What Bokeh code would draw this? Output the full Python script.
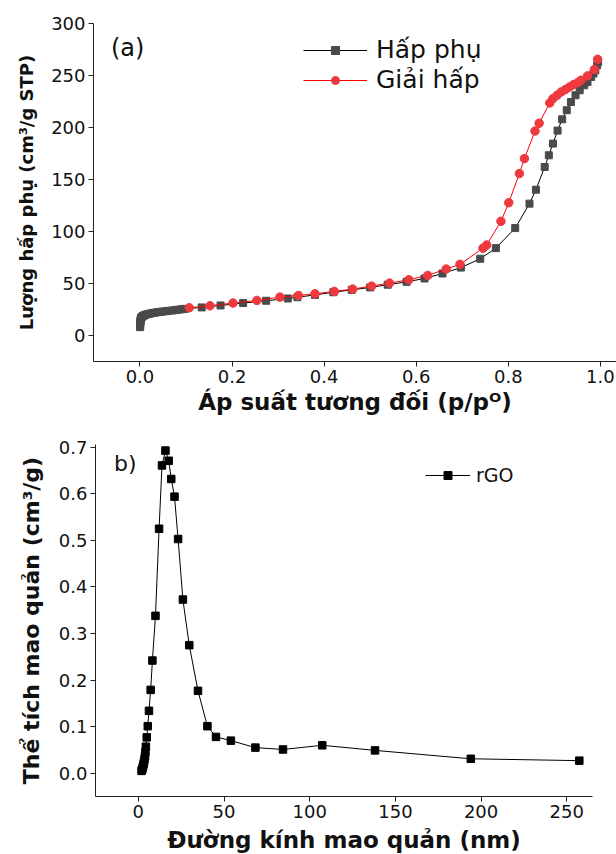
from bokeh.plotting import figure
from bokeh.models import Range1d, FixedTicker, PrintfTickFormatter, Legend, LegendItem, Label
from bokeh.embed import file_html
from bokeh.resources import INLINE

# ---------------- Panel (a): N2 isotherm ----------------
ads_p = [0.0003, 0.0005, 0.0007, 0.0009, 0.0012, 0.0016, 0.0022, 0.003, 0.004, 0.0055,
         0.0075, 0.010, 0.013, 0.017, 0.021, 0.026, 0.031, 0.037, 0.043, 0.049,
         0.055, 0.062, 0.069, 0.076, 0.083, 0.090, 0.097, 0.134, 0.175, 0.224,
         0.274, 0.321, 0.342, 0.380, 0.420, 0.460, 0.500, 0.538, 0.579, 0.618,
         0.657, 0.697, 0.739, 0.773, 0.815, 0.846, 0.860, 0.879, 0.888, 0.897,
         0.907, 0.917, 0.927, 0.936, 0.946, 0.955, 0.965, 0.972, 0.980, 0.985,
         0.989, 0.993, 0.995]
ads_v = [8.0, 10.0, 12.0, 13.5, 14.8, 15.8, 16.6, 17.3, 17.8, 18.4,
         19.0, 19.6, 20.1, 20.6, 21.0, 21.5, 21.9, 22.3, 22.7, 23.0,
         23.3, 23.7, 24.0, 24.4, 24.8, 25.2, 25.6, 27.0, 28.9, 31.2,
         33.4, 35.6, 36.8, 39.0, 41.6, 43.9, 46.2, 48.8, 51.6, 54.8,
         59.6, 65.3, 73.8, 84.0, 103.3, 126.8, 140.2, 162.0, 173.3, 184.5,
         197.0, 207.9, 216.6, 224.5, 231.0, 235.8, 240.6, 243.8, 248.6, 251.9,
         255.0, 259.9, 263.0]

des_p = [0.107, 0.152, 0.202, 0.254, 0.304, 0.344, 0.380, 0.422, 0.462, 0.503,
         0.542, 0.584, 0.625, 0.665, 0.695, 0.745, 0.753, 0.784, 0.801, 0.824,
         0.835, 0.858, 0.867, 0.890, 0.897, 0.906, 0.915, 0.924, 0.933, 0.942,
         0.951, 0.958, 0.972, 0.987, 0.994]
des_v = [26.7, 28.6, 31.2, 33.7, 36.9, 38.5, 40.1, 42.4, 44.6, 47.5,
         50.4, 53.6, 57.8, 63.9, 68.4, 84.0, 87.0, 109.8, 127.7, 155.7,
         170.1, 196.6, 204.1, 223.6, 227.8, 231.0, 234.2, 236.5, 239.0, 241.3,
         243.2, 245.4, 249.6, 255.7, 265.6]

x_ticks_a = [0.0, 0.2, 0.4, 0.6, 0.8, 1.0]
y_ticks_a = [0, 50, 100, 150, 200, 250, 300]

# ---------------- Panel (b): pore size distribution ----------------
pore_d = [1.9, 2.1, 2.4, 2.7, 3.0, 3.3, 3.6, 3.9, 4.1, 4.4,
          4.9, 5.5, 6.2, 7.2, 8.2, 10.0, 12.1, 13.8, 15.8, 17.7,
          19.2, 21.1, 23.2, 26.0, 29.7, 34.8, 40.3, 45.3, 54.0, 68.3,
          84.4, 107.3, 138.1, 194.0, 257.3]
pore_v = [0.005, 0.007, 0.010, 0.014, 0.019, 0.024, 0.030, 0.037, 0.045, 0.057,
          0.077, 0.101, 0.134, 0.179, 0.242, 0.338, 0.525, 0.661, 0.693, 0.671,
          0.632, 0.594, 0.503, 0.373, 0.275, 0.177, 0.101, 0.078, 0.070, 0.055,
          0.051, 0.060, 0.049, 0.031, 0.027]

x_ticks_b = [0, 50, 100, 150, 200, 250]
y_ticks_b = [0.0, 0.1, 0.2, 0.3, 0.4, 0.5, 0.6, 0.7]

FONT = "DejaVu Sans"
AXC = "#222222"
TXT = "#111111"


def style(p, xt, yt, xfmt, yfmt, tick_fs="18px", title_fs="23px", ytitle_fs="18px",
          xstand=2, ystand=10):
    p.outline_line_color = None
    p.xgrid.grid_line_color = None
    p.ygrid.grid_line_color = None
    p.background_fill_color = "white"
    p.border_fill_color = "white"
    p.xaxis.ticker = FixedTicker(ticks=xt)
    p.yaxis.ticker = FixedTicker(ticks=yt)
    p.xaxis.formatter = PrintfTickFormatter(format=xfmt)
    p.yaxis.formatter = PrintfTickFormatter(format=yfmt)
    for ax in (p.xaxis[0], p.yaxis[0]):
        ax.axis_line_color = AXC
        ax.axis_line_width = 1
        ax.major_tick_line_color = AXC
        ax.major_tick_out = 5
        ax.major_tick_in = 0
        ax.minor_tick_line_color = None
        ax.major_label_text_font = FONT
        ax.major_label_text_font_size = tick_fs
        ax.major_label_text_color = TXT
        ax.major_label_standoff = 3
        ax.axis_label_text_font = FONT
        ax.axis_label_text_font_style = "bold"
        ax.axis_label_text_color = TXT
    p.xaxis[0].axis_label_text_font_size = title_fs
    p.yaxis[0].axis_label_text_font_size = ytitle_fs
    p.xaxis[0].axis_label_standoff = xstand
    p.yaxis[0].axis_label_standoff = ystand


# ---------- figure (a) ----------
pa = figure(frame_width=523, frame_height=338,
            x_range=Range1d(-0.101, 1.035), y_range=Range1d(-25, 300),
            output_backend="svg", toolbar_location=None,
            min_border_left=93, min_border_right=0, min_border_top=23, min_border_bottom=59,
            x_axis_label="Áp suất tương đối (p/pᴼ)",
            y_axis_label="Lượng hấp phụ (cm³/g STP)")
style(pa, x_ticks_a, y_ticks_a, "%.1f", "%d", title_fs="23px", ytitle_fs="18px",
      xstand=3, ystand=11)

l_ads = pa.line(ads_p, ads_v, line_color="black", line_width=1)
s_ads = pa.scatter(ads_p, ads_v, marker="square", size=7, fill_color="#4a4a4a", line_color="#4a4a4a")
l_des = pa.line(des_p, des_v, line_color="#ff0000", line_width=1)
s_des = pa.scatter(des_p, des_v, marker="circle", size=8.5, fill_color="#ee3a3e", line_color="#ee3a3e")

leg_a = Legend(items=[LegendItem(label="Hấp phụ", renderers=[l_ads, s_ads]),
                      LegendItem(label="Giải hấp", renderers=[l_des, s_des])],
               location=(210, 267), glyph_width=64, glyph_height=20, label_height=20,
               label_text_font=FONT, label_text_font_size="25px", label_text_color=TXT,
               label_standoff=9, spacing=1, padding=0, margin=0, border_line_color=None,
               background_fill_alpha=0)
pa.add_layout(leg_a)
pa.add_layout(Label(x=-0.063, y=276, text="(a)", text_font=FONT, text_font_size="24px",
                    text_color=TXT, text_baseline="alphabetic"))

# ---------- figure (b) ----------
pb = figure(frame_width=497, frame_height=352,
            x_range=Range1d(-25, 265), y_range=Range1d(-0.05, 0.706),
            output_backend="svg", toolbar_location=None,
            min_border_left=95, min_border_right=24, min_border_top=24, min_border_bottom=58,
            x_axis_label="Đường kính mao quản (nm)",
            y_axis_label="Thể tích mao quản (cm³/g)")
style(pb, x_ticks_b, y_ticks_b, "%d", "%.1f", title_fs="23px", ytitle_fs="22px",
      xstand=6, ystand=12)

l_b = pb.line(pore_d, pore_v, line_color="black", line_width=1)
s_b = pb.scatter(pore_d, pore_v, marker="square", size=7.5, fill_color="black", line_color="black")
leg_b = Legend(items=[LegendItem(label="rGO", renderers=[l_b, s_b])],
               location=(330, 310), glyph_width=45, glyph_height=20, label_height=20,
               label_text_font=FONT, label_text_font_size="19px", label_text_color=TXT,
               label_standoff=6, spacing=0, padding=0, margin=0, border_line_color=None,
               background_fill_alpha=0)
pb.add_layout(leg_b)
pb.add_layout(Label(x=-14.2, y=0.665, text="b)", text_font=FONT, text_font_size="22px",
                    text_color=TXT, text_baseline="alphabetic"))

open("out.html", "w").write(file_html([pa, pb], INLINE))
